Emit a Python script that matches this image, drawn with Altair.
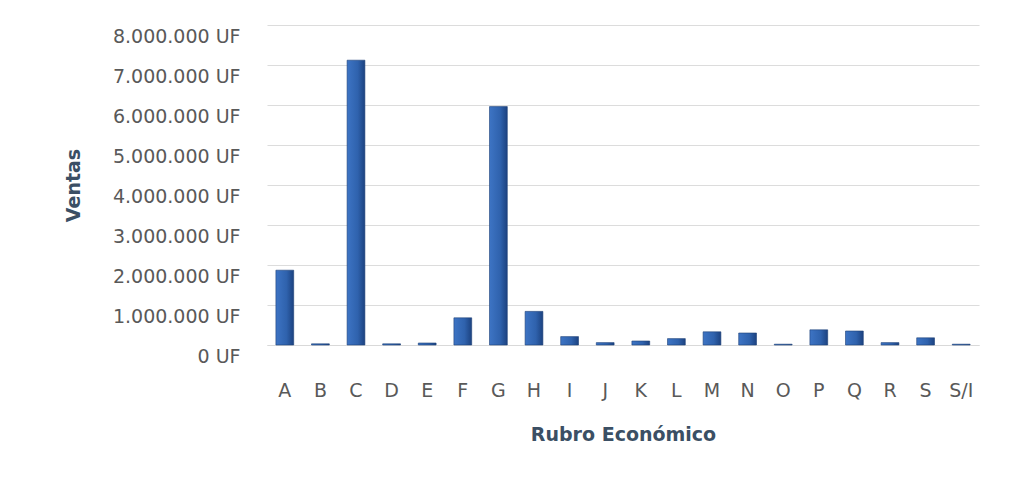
import altair as alt
import pandas as pd

categories = ["A", "B", "C", "D", "E", "F", "G", "H", "I", "J", "K", "L", "M", "N", "O", "P", "Q", "R", "S", "S/I"]
ventas = [1870000, 30000, 7120000, 30000, 50000, 680000, 5960000, 840000, 210000, 60000,
          100000, 160000, 330000, 300000, 20000, 380000, 350000, 60000, 180000, 20000]
y_ticks = [0, 1000000, 2000000, 3000000, 4000000, 5000000, 6000000, 7000000, 8000000]

df = pd.DataFrame({"rubro": categories, "ventas": ventas})

font = "DejaVu Sans"

bars = alt.Chart(df).mark_bar(
    color=alt.Gradient(
        gradient="linear", x1=0, x2=1, y1=0, y2=0,
        stops=[alt.GradientStop(color="#3d74c4", offset=0),
               alt.GradientStop(color="#2f62ad", offset=0.6),
               alt.GradientStop(color="#1c4280", offset=1)]
    ),
    stroke="#1d3f77", strokeWidth=0.6
).encode(
    x=alt.X("rubro:N", sort=categories, title="Rubro Económico",
            scale=alt.Scale(paddingInner=0.5, paddingOuter=0.25),
            axis=alt.Axis(labelAngle=0, labelFont=font, labelFontSize=19, labelColor="#595959",
                          labelPadding=36, ticks=False, domain=True, domainColor="#d9d9d9",
                          titleFont=font, titleFontSize=19, titleFontWeight="bold",
                          titleColor="#3b4f64", titlePadding=25)),
    y=alt.Y("ventas:Q", title="Ventas",
            scale=alt.Scale(domain=[0, 8000000]),
            axis=alt.Axis(values=y_ticks,
                          labelExpr="replace(format(datum.value, ',d'), /,/g, '.') + ' UF'",
                          labelFont=font, labelFontSize=19, labelColor="#595959",
                          labelPadding=27, labelOffset=11, ticks=False, domain=False,
                          gridColor="#dcdcdc", gridWidth=1.2,
                          titleFont=font, titleFontSize=19, titleFontWeight="bold",
                          titleColor="#3b4f64", titlePadding=29))
)

chart = bars.properties(
    width=712, height=320,
    padding={"left": 56, "top": 17, "right": 10, "bottom": 10},
    background="white"
).configure_view(stroke=None)

chart.save("out.html", embed_options={"renderer": "svg", "actions": False})
